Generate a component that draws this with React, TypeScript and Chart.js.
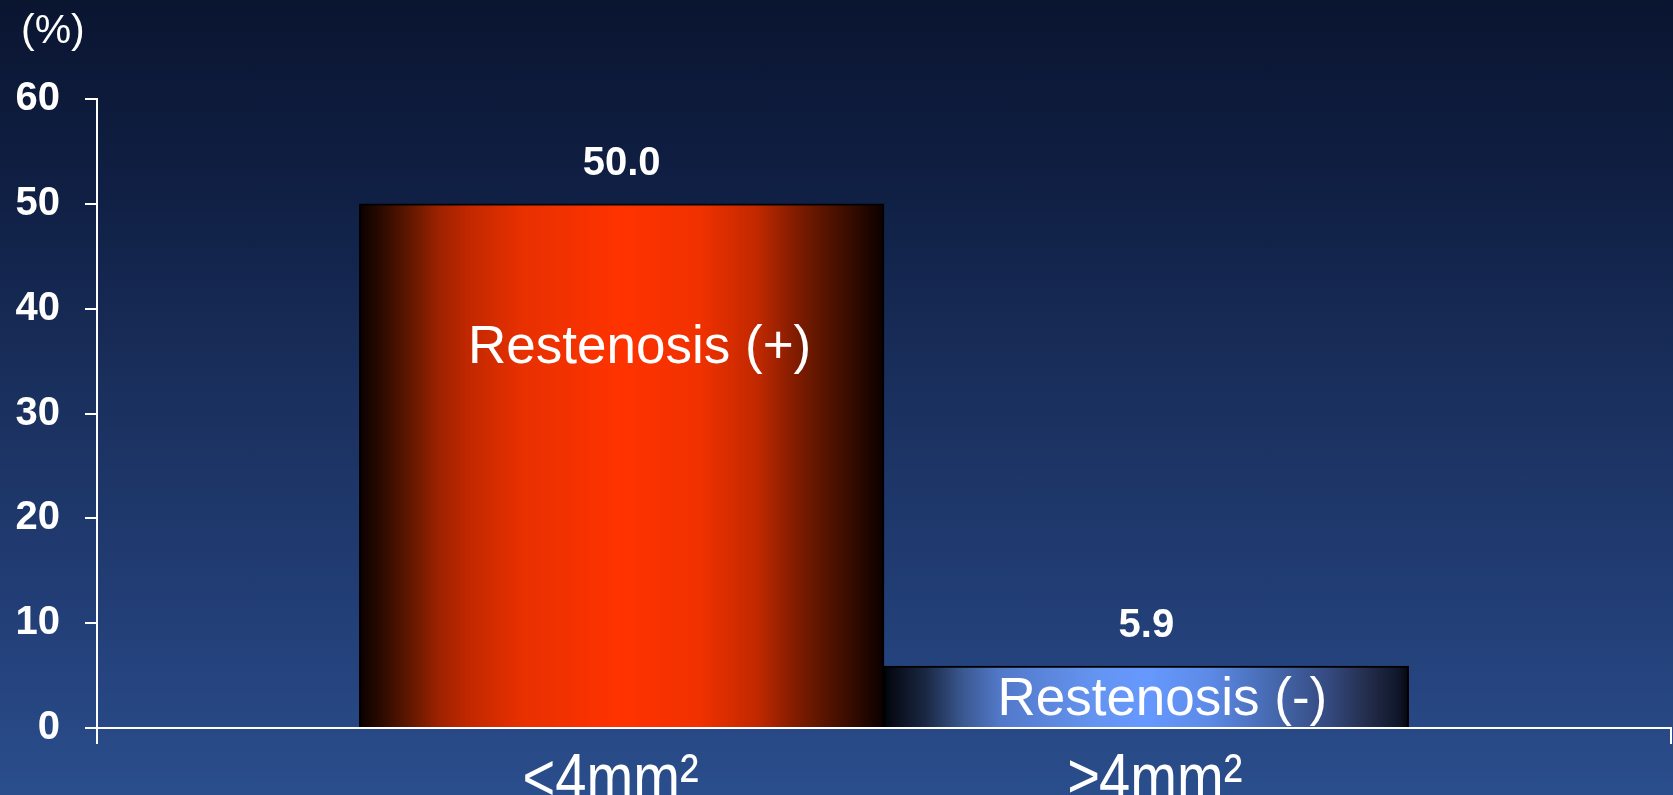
import React, { useEffect, useRef } from "react";
import { Chart, registerables } from "chart.js";

Chart.register(...registerables);

// ---- data ----
const categories = ["", "<4mm²", "≥4mm²", ""];
const restenosisRate: (number | null)[] = [null, 50.0, 5.9, null];
const valueLabels = ["", "50.0", "5.9", ""];
const barInnerLabels = ["", "Restenosis (+)", "Restenosis (-)", ""];
const innerLabelLevels: (number | null)[] = [null, 34.8, 1.2, null];
const innerLabelShift = [0, 18, 16, 0];
const categoryLabelShift = [0, -11, 9, 0];
const unitLabel = "(%)";
const yMin = 0;
const yMax = 60;
const yStep = 10;

const FONT = '"Liberation Sans", Arial, sans-serif';

const redStops: [number, string][] = [
  [0, "#0a0000"],
  [0.04, "#2a0a00"],
  [0.09, "#5a1600"],
  [0.15, "#9c2200"],
  [0.21, "#c22800"],
  [0.31, "#e83000"],
  [0.5, "#ff3300"],
  [0.65, "#f03100"],
  [0.76, "#c02800"],
  [0.82, "#8a1e00"],
  [0.88, "#5c1500"],
  [0.94, "#340b00"],
  [1, "#0a0000"],
];
const blueStops: [number, string][] = [
  [0, "#02040a"],
  [0.08, "#1a2844"],
  [0.15, "#3a5890"],
  [0.22, "#5278c8"],
  [0.4, "#6494f0"],
  [0.5, "#6699ff"],
  [0.62, "#5c8ae6"],
  [0.75, "#4466aa"],
  [0.85, "#34497e"],
  [0.915, "#252f50"],
  [0.98, "#10172a"],
  [1, "#05070d"],
];

function makeGradient(ctx: CanvasRenderingContext2D, left: number, right: number, stops: [number, string][]) {
  const g = ctx.createLinearGradient(left, 0, right, 0);
  stops.forEach(([o, c]) => g.addColorStop(o, c));
  return g;
}

const annotationPlugin = {
  id: "annotations",
  afterDatasetsDraw(chart: any) {
    const ctx: CanvasRenderingContext2D = chart.ctx;
    const meta = chart.getDatasetMeta(0);
    const ys = chart.scales.y;
    const xs = chart.scales.x;
    ctx.save();
    ctx.fillStyle = "#ffffff";
    ctx.textAlign = "center";
    ctx.textBaseline = "alphabetic";
    meta.data.forEach((bar: any, i: number) => {
      if (restenosisRate[i] == null) return;
      ctx.font = `bold 40px ${FONT}`;
      ctx.fillText(valueLabels[i], bar.x, bar.y - 29);
      const lvl = innerLabelLevels[i];
      if (lvl != null) {
        ctx.font = `53px ${FONT}`;
        ctx.fillText(barInnerLabels[i], bar.x + innerLabelShift[i], ys.getPixelForValue(lvl));
      }
    });
    // category labels (condensed, like the original narrow face)
    ctx.font = `66px ${FONT}`;
    categories.forEach((lab, i) => {
      if (!lab) return;
      const x = xs.getPixelForValue(i) + categoryLabelShift[i];
      ctx.save();
      ctx.translate(x, xs.top + 72);
      ctx.scale(0.85, 1);
      ctx.fillText(lab, 0, 0);
      ctx.restore();
    });
    ctx.textAlign = "left";
    ctx.font = `41px ${FONT}`;
    ctx.fillText(unitLabel, 21, 43);
    ctx.restore();
  },
};

export default function App() {
  const canvasRef = useRef<HTMLCanvasElement | null>(null);

  useEffect(() => {
    document.body.style.margin = "0";
    const canvas = canvasRef.current;
    if (!canvas) return;
    const chart = new Chart(canvas, {
      type: "bar",
      data: {
        labels: categories,
        datasets: [
          {
            data: restenosisRate as any,
            barPercentage: 1,
            categoryPercentage: 1,
            borderColor: "#000000",
            borderWidth: 2,
            backgroundColor: (c: any) => {
              const chart = c.chart;
              const xs = chart.scales && chart.scales.x;
              if (!xs || c.dataIndex == null || !chart.chartArea) return "transparent";
              const i = c.dataIndex;
              const xc = xs.getPixelForValue(i);
              const half = (xs.getPixelForValue(1) - xs.getPixelForValue(0)) / 2;
              return makeGradient(chart.ctx, xc - half, xc + half, i === 1 ? redStops : blueStops);
            },
          },
        ],
      },
      options: {
        responsive: false,
        animation: false,
        layout: { padding: { top: 99, right: 2, left: 0, bottom: 0 } },
        plugins: {
          legend: { display: false },
          tooltip: { enabled: false },
          title: { display: false },
        },
        scales: {
          x: {
            type: "category",
            offset: false,
            afterFit: (scale: any) => {
              scale.height = 67;
            },
            grid: {
              display: true,
              offset: false,
              drawOnChartArea: false,
              drawTicks: true,
              tickLength: 16,
              lineWidth: 2,
              color: (c: any) => (c.index === 0 || c.index === categories.length - 1 ? "#ffffff" : "rgba(0,0,0,0)"),
            },
            border: { display: true, color: "#ffffff", width: 2 },
            ticks: {
              display: false,
              autoSkip: false,
            },
          },
          y: {
            min: yMin,
            max: yMax,
            afterFit: (scale: any) => {
              scale.width = 97;
            },
            grid: {
              display: true,
              drawOnChartArea: false,
              drawTicks: true,
              tickLength: 12,
              lineWidth: 2,
              color: "#ffffff",
            },
            border: { display: true, color: "#ffffff", width: 2 },
            ticks: {
              stepSize: yStep,
              padding: 25,
              color: "#ffffff",
              font: { family: FONT, size: 40, weight: "bold" },
            },
          },
        },
      },
      plugins: [annotationPlugin],
    });
    return () => chart.destroy();
  }, []);

  return (
    <div
      style={{
        width: 1673,
        height: 795,
        background:
          "linear-gradient(to bottom, #0a1530 0%, #0f1e42 22%, #1a305e 50%, #233f78 78%, #2a4e8c 100%)",
      }}
    >
      <canvas ref={canvasRef} width={1673} height={795} style={{ display: "block" }} />
    </div>
  );
}
